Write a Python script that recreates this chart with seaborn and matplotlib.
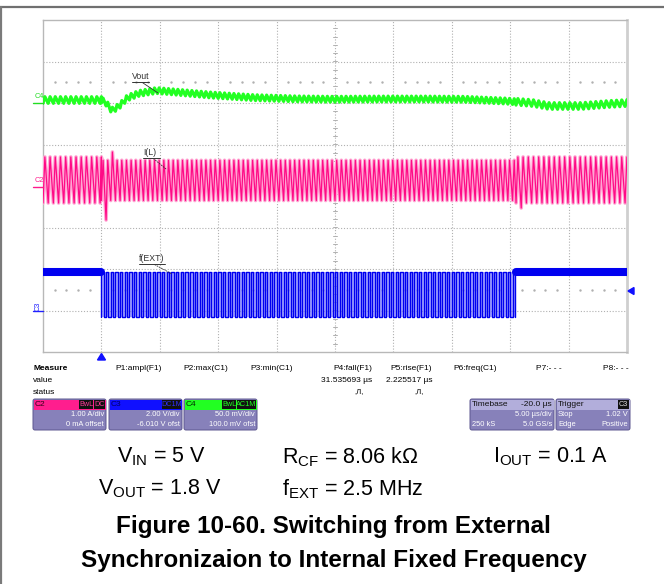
import numpy as np
import pandas as pd
import matplotlib
matplotlib.use("Agg")
import matplotlib.pyplot as plt
import seaborn as sns
from matplotlib.patches import FancyBboxPatch, Rectangle, Polygon

# ------------------------------------------------------------------ data
# screen: 10 div x 5 us/div, trigger 1 div from the left edge
t_left_us = -5.0
t_right_us = 45.0
us_per_div = 5.0

# switching segments: internal clock -> synchronised to f(EXT) -> internal clock
seg_start_us = [-5.0, 0.0, 35.5]
seg_end_us = [0.0, 35.5, 45.0]
seg_fsw_mhz = [2.25, 2.5, 2.25]
seg_sync_on = [False, True, False]
duty = 0.36  # VOUT / VIN

# C2: inductor current I(L), 1 A/div, 0 mA offset
il_peak_a = [0.70, 0.62, 0.70]
il_trough_a = [-0.41, -0.35, -0.41]
il_event_t_us = [0.55, 1.05, 36.0]
il_event_a = [-0.82, 0.82, -0.53]

# C4: Vout (AC), 50 mV/div, centre line of the trace
vout_t_us = [-5.0, -2.5, 0.0, 0.4, 0.9, 1.5, 2.2, 3.2, 4.7, 6.5, 9.4, 13.0,
             16.6, 19.8, 23.8, 27.5, 31.0, 34.6, 36.9, 38.3, 41.1, 43.4, 45.0]
vout_mv = [3.6, 3.6, 3.6, 0.0, -9.0, -4.0, 6.0, 11.5, 15.0, 13.0, 9.6, 6.5,
           5.0, 4.5, 4.8, 4.8, 4.5, 2.4, 0.0, -3.6, -3.6, -1.2, 0.0]
vout_ripple_pp_mv = [8.0, 7.0, 8.0]

# C3: f(EXT) sync input, 2 V/div
fext_high_v = 1.86
fext_low_v = -0.32
fext_idle_v = 1.86

# channel placement on screen (divisions of the 0 level)
c4_zero_div, c4_mv_per_div = 2.0, 50.0
c2_zero_div, c2_a_per_div = 0.0, 1.0
c3_zero_div, c3_v_per_div = -3.0, 2.0

# measurement table
meas_headers = ["P1:ampl(F1)", "P2:max(C1)", "P3:min(C1)", "P4:fall(F1)",
                "P5:rise(F1)", "P6:freq(C1)", "P7:- - -", "P8:- - -"]
meas_values = ["", "", "", "31.535693 µs", "2.225517 µs", "", "", ""]
meas_status = ["", "", "", ",Л,", ",Л,", "", "", ""]

cond_row1 = [r"V$_{\mathrm{IN}}$ = 5 V", r"R$_{\mathrm{CF}}$ = 8.06 kΩ",
             r"I$_{\mathrm{OUT}}$ = 0.1 A"]
cond_row2 = [r"V$_{\mathrm{OUT}}$ = 1.8 V", r"f$_{\mathrm{EXT}}$ = 2.5 MHz"]
title_lines = ["Figure 10-60. Switching from External",
               "Synchronizaion to Internal Fixed Frequency"]

# ------------------------------------------------------------------ build traces
il_t, il_v, vo_t, vo_v = [], [], [], []
fx_t, fx_v = [], []
for i in range(len(seg_start_us)):
    s, e = seg_start_us[i], seg_end_us[i]
    T = 1.0 / seg_fsw_mhz[i]
    starts = np.arange(s, e - 1e-9, T)
    peaks = np.full(len(starts), il_peak_a[i])
    troughs = np.full(len(starts), il_trough_a[i])
    for te, va in zip(il_event_t_us, il_event_a):
        if s <= te < e:
            k = int((te - s) // T)
            if va < 0:
                troughs[k] = va
            else:
                peaks[k] = va
    for k, c in enumerate(starts):
        tc = min(c + duty * T, e)
        il_t += [c, tc]
        il_v += [troughs[k], peaks[k]]
        vo_t += [c, tc]
        vo_v += [np.interp(c, vout_t_us, vout_mv) - vout_ripple_pp_mv[i] / 2,
                 np.interp(tc, vout_t_us, vout_mv) + vout_ripple_pp_mv[i] / 2]
    if seg_sync_on[i]:
        for c in starts:
            h = min(c + T / 2, e)
            fx_t += [c, c, h, h]
            fx_v += [fext_low_v, fext_high_v, fext_high_v, fext_low_v]

df_il = pd.DataFrame({"t": il_t, "y": np.array(il_v) / c2_a_per_div + c2_zero_div})
df_vo = pd.DataFrame({"t": vo_t, "y": np.array(vo_v) / c4_mv_per_div + c4_zero_div})
df_fx = pd.DataFrame({"t": fx_t, "y": np.array(fx_v) / c3_v_per_div + c3_zero_div})
idle_rows = []
for i in range(len(seg_start_us)):
    if not seg_sync_on[i]:
        idle_rows += [(seg_start_us[i], i), (seg_end_us[i], i)]
df_idle = pd.DataFrame({"t": [r[0] for r in idle_rows],
                        "y": [fext_idle_v / c3_v_per_div + c3_zero_div] * len(idle_rows),
                        "seg": [r[1] for r in idle_rows]})

# ------------------------------------------------------------------ figure
sns.set_theme(style="white")
plt.rcParams["font.family"] = ["Liberation Sans", "DejaVu Sans"]
plt.rcParams["text.color"] = "black"
plt.rcParams["mathtext.fontset"] = "custom"
plt.rcParams["mathtext.rm"] = "Liberation Sans"
plt.rcParams["mathtext.it"] = "Liberation Sans:italic"
plt.rcParams["mathtext.bf"] = "Liberation Sans:bold"

W, H = 664, 584
fig = plt.figure(figsize=(W / 100, H / 100), dpi=100)
fig.patch.set_facecolor("white")

L, R, T_, B = 43, 627, 20, 352
ax = fig.add_axes([L / W, (H - B) / H, (R - L) / W, (B - T_) / H], zorder=1)
ax.set_xlim(t_left_us, t_right_us)
ax.set_ylim(-4, 4)
ax.set_xticks([])
ax.set_yticks([])
for sp in ax.spines.values():
    sp.set_color("#b8b8b8")
    sp.set_linewidth(1.0)
ax.spines["right"].set_linewidth(2.0)
ax.spines["right"].set_color("#cfcfcf")

grid_kw = dict(color="#b0b0b0", lw=0.8, ls=(0, (1, 1.6)), zorder=0)
for k in range(1, 10):
    ax.axvline(t_left_us + k * us_per_div, **grid_kw)
for k in range(-3, 4):
    ax.axhline(k, **grid_kw)
# minor ticks on centre lines
tc = t_left_us + 5 * us_per_div
for yy in np.arange(-4, 4.01, 0.2):
    ax.plot([tc - 0.17, tc + 0.17], [yy, yy], color="#b0b0b0", lw=0.7, zorder=0)
for xx in np.arange(t_left_us, t_right_us + 0.01, 1.0):
    ax.plot([xx, xx], [-0.04, 0.04], color="#b0b0b0", lw=0.7, zorder=0)
# dotted reference rows
dots_x = [x for x in np.arange(t_left_us + 1, t_right_us, 1.0) if abs(x % 5) > 1e-6]
for yy in (2.5, -2.5):
    ax.plot(dots_x, [yy] * len(dots_x), ls="none", marker="s", ms=0.7,
            color="#b0b0b0", zorder=0)

# traces
sns.lineplot(data=df_vo, x="t", y="y", ax=ax, estimator=None, sort=False,
             color="#22ff22", lw=2.3, zorder=3)
sns.lineplot(data=df_il, x="t", y="y", ax=ax, estimator=None, sort=False,
             color="#ffa6d3", lw=2.6, zorder=3)
sns.lineplot(data=df_il, x="t", y="y", ax=ax, estimator=None, sort=False,
             color="#ff0a86", lw=0.9, zorder=4)
ax.fill_between([seg_start_us[1], seg_end_us[1]],
                fext_low_v / c3_v_per_div + c3_zero_div,
                fext_high_v / c3_v_per_div + c3_zero_div,
                color="#7878ff", alpha=0.6, lw=0, zorder=2)
sns.lineplot(data=df_fx, x="t", y="y", ax=ax, estimator=None, sort=False,
             color="#0000f0", lw=1.0, zorder=3)
sns.lineplot(data=df_idle, x="t", y="y", units="seg", ax=ax, estimator=None,
             sort=False, color="#0000f0", lw=5.8, zorder=3)
ax.set_xlabel("")
ax.set_ylabel("")

# ------------------------------------------------------------------ overlay (pixel coords)
ov = fig.add_axes([0, 0, 1, 1], zorder=5)
ov.set_xlim(0, W)
ov.set_ylim(H, 0)
ov.axis("off")
ov.patch.set_alpha(0)

# page border
ov.plot([0, W], [7, 7], color="#707070", lw=1.6)
ov.plot([0.8, 0.8], [7, H], color="#7a7a7a", lw=1.6)

# trace labels with leaders
def tag(x, y, s, x2, y2, ls="-"):
    ov.text(x, y, s, fontsize=6.3, color="#333333", ha="left", va="bottom")
    tw = 4.3 * len(s)
    ov.plot([x, x + tw], [y + 0.8, y + 0.8], color="#333333", lw=0.7)
    ov.plot([x + tw * 0.6, x2], [y + 1.5, y2], color="#333333", lw=0.6, ls=ls)

tag(132, 81, "Vout", 158, 93)
tag(143, 157, "I(L)", 166, 169, ls=(0, (2, 1)))
tag(139, 263, "f(EXT)", 172, 274, ls=(0, (2, 1)))

# channel markers
ov.text(35, 100, "C4", fontsize=5.3, color="#22dd22", ha="left", va="bottom")
ov.plot([33, 43], [103, 103], color="#22dd22", lw=1.0)
ov.text(35, 184, "C2", fontsize=5.3, color="#ff1a8c", ha="left", va="bottom")
ov.plot([33, 43], [186.5, 186.5], color="#ff1a8c", lw=1.0)
ov.text(38, 306, "C3", fontsize=5.3, color="#2020ff", ha="center", va="center",
        rotation=90)
ov.plot([33, 43], [311, 311], color="#2020ff", lw=1.0)
ov.add_patch(Polygon([[97.5, 360], [105.5, 360], [101.5, 353.5]], closed=True,
                     color="#1010ff"))
ov.add_patch(Polygon([[628, 291], [634, 287.5], [634, 294.5]], closed=True,
                     color="#1010ff"))

# measurement table
ov.text(33, 368, "Measure", fontsize=6, fontweight="bold", va="center", ha="left")
ov.text(33, 380, "value", fontsize=6, va="center", ha="left")
ov.text(33, 392, "status", fontsize=6, va="center", ha="left")
hdr_right = [162, 228, 293, 372, 432, 497, 562, 629]
for hx, h, v, st in zip(hdr_right, meas_headers, meas_values, meas_status):
    ov.text(hx, 368, h, fontsize=6, va="center", ha="right")
    if v:
        ov.text(hx, 380, v, fontsize=6, va="center", ha="right")
    if st:
        ov.text(hx - 8, 392, st, fontsize=5.5, va="center", ha="right")

body_col = "#8781ba"
head_col = "#b2aedb"
edge_col = "#5c568f"

def scope_box(x0, x1, head_color, head_text, head_text_color, tags, tag_color,
              lines, head_right=None):
    y0, ym, y1 = 399, 409, 430
    ov.add_patch(FancyBboxPatch((x0, y0), x1 - x0, y1 - y0,
                                boxstyle="round,pad=0,rounding_size=2",
                                fc=body_col, ec=edge_col, lw=0.7))
    ov.add_patch(Rectangle((x0 + 0.5, y0 + 0.5), x1 - x0 - 1, ym - y0,
                           fc=head_color, ec="none"))
    ov.text(x0 + 2, (y0 + ym) / 2 + 0.5, head_text, fontsize=6,
            color=head_text_color, va="center", ha="left")
    if head_right:
        ov.text(x1 - 2, (y0 + ym) / 2 + 0.5, head_right, fontsize=6,
                color="#111111", va="center", ha="right")
    xr = x1 - 1.5
    for tg in reversed(tags):
        w = 4.1 * len(tg) + 2
        ov.add_patch(Rectangle((xr - w, y0 + 1.3), w, ym - y0 - 1.8, fc="#111111",
                               ec="none"))
        ov.text(xr - w / 2, (y0 + ym) / 2 + 0.5, tg, fontsize=5.2,
                color=tag_color, ha="center", va="center")
        xr -= w + 1
    for (yy, left, right) in lines:
        if left:
            ov.text(x0 + 2, yy, left, fontsize=5.4, color="white", va="center",
                    ha="left")
        if right:
            ov.text(x1 - 2, yy, right, fontsize=5.4, color="white", va="center",
                    ha="right")

scope_box(33, 106, "#ff1e8e", "C2", "#330018", ["BwL", "DC"], "#ff3a9a",
          [(414.5, "", "1.00 A/div"), (424.5, "", "0 mA offset")])
scope_box(109, 182, "#1010ff", "C3", "#000066", ["DC1M"], "#3030ff",
          [(414.5, "", "2.00 V/div"), (424.5, "", "-6.010 V ofst")])
scope_box(184, 257, "#22ff22", "C4", "#003300", ["BwL", "AC1M"], "#22ff22",
          [(414.5, "", "50.0 mV/div"), (424.5, "", "100.0 mV ofst")])
scope_box(470, 554, head_col, "Timebase", "#111111", [], "white",
          [(414.5, "", "5.00 µs/div"), (424.5, "250 kS", "5.0 GS/s")],
          head_right="-20.0 µs")
scope_box(556, 630, head_col, "Trigger", "#111111", ["C3"], "#dddddd",
          [(414.5, "Stop", "1.02 V"), (424.5, "Edge", "Positive")])

# operating conditions
fs_c = 15.5
ov.text(161, 457, cond_row1[0], fontsize=fs_c, ha="center", va="center", color="black")
ov.text(282, 457, cond_row1[1], fontsize=fs_c, ha="left", va="center", color="black")
ov.text(551, 457, cond_row1[2], fontsize=fs_c, ha="center", va="center", color="black")
ov.text(160, 489, cond_row2[0], fontsize=fs_c, ha="center", va="center", color="black")
ov.text(282, 489, cond_row2[1], fontsize=fs_c, ha="left", va="center", color="black")

ov.text(333, 527, title_lines[0], fontsize=17.5, fontweight="bold",
        ha="center", va="center", color="black")
ov.text(334, 561, title_lines[1], fontsize=17.5, fontweight="bold",
        ha="center", va="center", color="black")

fig.savefig("out.png", dpi=100, facecolor="white")
